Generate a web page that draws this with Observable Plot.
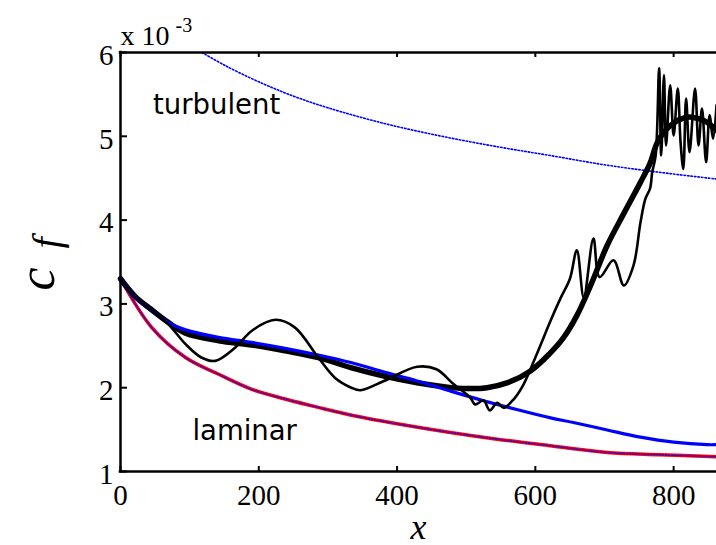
<!DOCTYPE html>
<html><head><meta charset="utf-8">
<script src="https://cdn.jsdelivr.net/npm/d3@7"></script>
<script src="https://cdn.jsdelivr.net/npm/@observablehq/plot@0.6"></script>
<style>body{margin:0;background:#fff;} svg{display:block;}</style>
</head><body><div id="chart"></div>
<script>
// ---- data (y in units of 1e-3) ----
const xTicks = [0, 200, 400, 600, 800];
const yTicks = [1, 2, 3, 4, 5, 6];
const xTickLabels = ["0", "200", "400", "600", "800"];
const yTickLabels = ["1", "2", "3", "4", "5", "6"];

// laminar correlation (red solid + blue dotted overlay)
const lamX = [0, 45, 94, 142, 190, 238, 286, 338, 400, 477, 550, 622, 704, 780, 862];
const lamY = [3.30, 2.72, 2.36, 2.16, 1.98, 1.865, 1.765, 1.665, 1.57, 1.466, 1.38, 1.307, 1.227, 1.20, 1.176];

// turbulent correlation (blue dotted)
const turbX = [118, 150, 200, 250, 300, 383, 465, 549, 622, 700, 780, 862];
const turbY = [6.00, 5.85, 5.65, 5.48, 5.34, 5.15, 5.00, 4.87, 4.77, 4.66, 4.57, 4.49];

// blue solid curve
const blueX = [0, 21, 45, 69, 94, 142, 190, 238, 286, 333, 380, 429, 477, 525, 573, 622, 655, 704, 752, 800, 848, 862];
const blueY = [3.30, 3.08, 2.92, 2.78, 2.69, 2.60, 2.54, 2.47, 2.39, 2.30, 2.19, 2.08, 1.96, 1.845, 1.74, 1.64, 1.585, 1.495, 1.41, 1.35, 1.32, 1.32];

// thick black (averaged) curve
const avgX = [0, 21, 45, 69, 94, 142, 190, 238, 286, 333, 381, 429, 470, 500, 530, 560, 593, 620, 641, 660, 680, 704, 728, 752, 766, 776, 788, 800, 812, 823, 836, 848, 862];
const avgY = [3.30, 3.09, 2.93, 2.78, 2.65, 2.56, 2.51, 2.44, 2.36, 2.24, 2.14, 2.06, 2.01, 1.99, 2.00, 2.06, 2.20, 2.40, 2.60, 2.86, 3.22, 3.70, 4.08, 4.45, 4.68, 4.92, 5.07, 5.16, 5.21, 5.23, 5.21, 5.17, 5.07];

// thin black (instantaneous) curve
const instX = [0, 21, 45, 69, 94, 117, 137, 166, 190, 224, 252, 286, 310, 334, 347, 381, 429, 457, 482, 506, 513, 525, 534, 545, 554, 569, 583, 602, 622, 636, 650, 660, 670, 684, 693, 713, 728, 742, 752, 759, 766, 769, 774, 779, 782, 786, 789, 795, 800, 806, 810, 814, 818, 823, 831, 836, 841, 847, 852, 857, 862];
const instY = [3.30, 3.08, 2.92, 2.76, 2.52, 2.36, 2.32, 2.48, 2.68, 2.81, 2.72, 2.36, 2.12, 2.00, 1.97, 2.08, 2.25, 2.22, 2.04, 1.88, 1.80, 1.85, 1.73, 1.82, 1.76, 1.865, 2.04, 2.40, 2.80, 3.06, 3.30, 3.64, 3.08, 3.78, 3.32, 3.52, 3.22, 3.46, 3.97, 4.25, 4.38, 4.57, 4.77, 5.81, 4.77, 5.73, 4.89, 5.61, 5.01, 5.57, 4.93, 4.61, 5.45, 4.81, 5.57, 4.89, 5.33, 4.69, 5.25, 4.97, 5.37];

const rows = (xs, ys) => xs.map((x, i) => ({x, y: ys[i]}));

// ---- layout ----
const W = 716, H = 545, mL = 120, mR = 0, mT = 52, mB = 74;
const xDom = [0, 862], yDom = [1, 6];
const perPxX = (xDom[1] - xDom[0]) / (W - mL - mR);
const perPxY = (yDom[1] - yDom[0]) / (H - mT - mB);
const serif = "Liberation Serif";
const sans = "DejaVu Sans";

const chart = Plot.plot({
  width: W, height: H,
  marginLeft: mL, marginRight: mR, marginTop: mT, marginBottom: mB,
  x: {domain: xDom, label: null},
  y: {domain: yDom, label: null},
  style: {background: "white", color: "black", overflow: "visible"},
  marks: [
    // curves
    Plot.line(rows(lamX, lamY), {x: "x", y: "y", stroke: "#ff0000", strokeWidth: 3.5, curve: "catmull-rom"}),
    Plot.line(rows(lamX, lamY), {x: "x", y: "y", stroke: "#0000ff", strokeWidth: 1.3, strokeDasharray: "1.3,1.7", curve: "catmull-rom"}),
    Plot.line(rows(turbX, turbY), {x: "x", y: "y", stroke: "#0000ff", strokeWidth: 1.6, strokeDasharray: "1.5,2", curve: "catmull-rom", clip: true}),
    Plot.line(rows(avgX, avgY), {x: "x", y: "y", stroke: "black", strokeWidth: 5.5, curve: "catmull-rom"}),
    Plot.line(rows(blueX, blueY), {x: "x", y: "y", stroke: "#0000ff", strokeWidth: 3.2, curve: "catmull-rom"}),
    Plot.line(rows(instX, instY), {x: "x", y: "y", stroke: "black", strokeWidth: 2.6, curve: "catmull-rom", clip: true}),

    // frame
    Plot.ruleX([xDom[0]], {y1: yDom[0], y2: yDom[1], strokeWidth: 2.5, strokeLinecap: "square"}),
    Plot.ruleY([yDom[0]], {x1: xDom[0], x2: xDom[1], strokeWidth: 2.5, strokeLinecap: "square"}),
    Plot.ruleY([yDom[1]], {x1: xDom[0], x2: xDom[1], strokeWidth: 2.5, strokeLinecap: "square"}),

    // inward ticks
    Plot.ruleX(xTicks, {x: d => d, y1: yDom[0], y2: yDom[0] + 5 * perPxY, strokeWidth: 2}),
    Plot.ruleX(xTicks, {x: d => d, y1: yDom[1], y2: yDom[1] - 5 * perPxY, strokeWidth: 2}),
    Plot.ruleY(yTicks, {y: d => d, x1: xDom[0], x2: xDom[0] + 7 * perPxX, strokeWidth: 2}),

    // tick labels
    Plot.axisX(xTicks, {tickSize: 0, tickPadding: 13, fontSize: 29, fontFamily: serif, tickFormat: (d, i) => xTickLabels[i], label: null}),
    Plot.axisY(yTicks, {tickSize: 0, tickPadding: 7, fontSize: 29, fontFamily: serif, dy: 3, tickFormat: (d, i) => yTickLabels[i], label: null}),

    // exponent
    Plot.text(["x 10"], {frameAnchor: "top-left", textAnchor: "start", lineAnchor: "bottom", dy: -8, fontSize: 28, fontFamily: serif}),
    Plot.text(["-3"], {frameAnchor: "top-left", textAnchor: "start", lineAnchor: "bottom", dx: 55, dy: -21, fontSize: 20, fontFamily: serif}),

    // annotations
    Plot.text(["turbulent"], {x: 47, y: 5.27, textAnchor: "start", lineAnchor: "bottom", fontSize: 27.5, fontFamily: sans}),
    Plot.text(["laminar"], {x: 104, y: 1.37, textAnchor: "start", lineAnchor: "bottom", fontSize: 27.5, fontFamily: sans}),

    // axis labels
    Plot.text(["x"], {frameAnchor: "bottom", lineAnchor: "bottom", dy: 67, fontSize: 36, fontFamily: serif, fontStyle: "italic"}),
    Plot.text(["c"], {frameAnchor: "left", textAnchor: "middle", lineAnchor: "bottom", rotate: -90, dx: -67, dy: 17, fontSize: 52, fontFamily: serif, fontStyle: "italic"}),
    Plot.text(["f"], {frameAnchor: "left", textAnchor: "middle", lineAnchor: "bottom", rotate: -90, dx: -61, dy: -19, fontSize: 40, fontFamily: serif, fontStyle: "italic"})
  ]
});
document.getElementById("chart").appendChild(chart);
</script>
</body></html>
